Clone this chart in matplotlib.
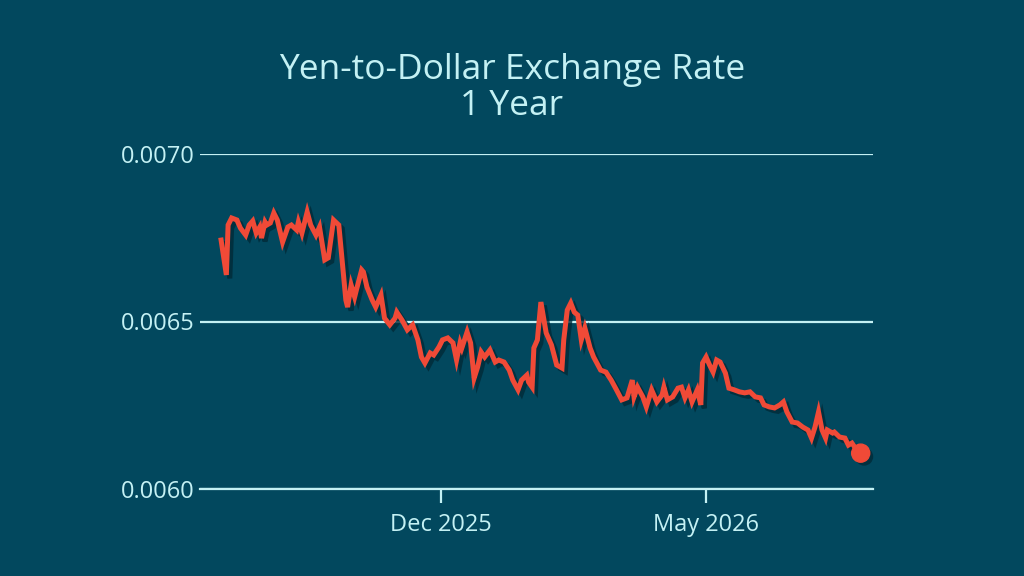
import datetime as dt
import matplotlib
matplotlib.use("Agg")
import matplotlib.pyplot as plt
import matplotlib.dates as mdates
import matplotlib.patheffects as pe

start_date = dt.date(2025, 7, 29)

days = [0, 3, 4, 6, 9, 11, 14, 16, 18, 20, 22, 23, 25, 26, 28, 30, 32, 35, 38, 40,
        43, 44, 46, 49, 51, 54, 56, 59, 61, 64, 67, 69, 71, 72, 74, 76, 77, 80, 81, 83,
        86, 88, 91, 93, 96, 99, 100, 103, 106, 109, 112, 114, 116, 119, 121, 124, 126, 129, 132, 134,
        136, 137, 140, 142, 144, 146, 148, 150, 153, 156, 158, 161, 164, 166, 169, 171, 174, 175, 177, 178,
        180, 182, 184, 185, 188, 191, 194, 195, 197, 199, 201, 203, 205, 207, 210, 212, 216, 219, 222, 225,
        228, 231, 234, 235, 237, 240, 242, 245, 248, 251, 252, 254, 257, 260, 262, 264, 266, 268, 271, 273,
        274, 276, 278, 280, 282, 284, 287, 289, 292, 295, 298, 301, 304, 307, 309, 312, 315, 318, 320, 322,
        325, 328, 331, 334, 336, 338, 340, 342, 344, 345, 348, 349, 352, 355, 357, 359, 361, 364]

rates = [0.006743, 0.006639, 0.006788, 0.006809, 0.006803, 0.006779, 0.006758, 0.006788, 0.006800, 0.006764,
         0.006782, 0.006749, 0.006797, 0.006788, 0.006794, 0.006824, 0.006803, 0.006737, 0.006782, 0.006788,
         0.006773, 0.006797, 0.006764, 0.006827, 0.006788, 0.006758, 0.006782, 0.006684, 0.006690, 0.006803,
         0.006788, 0.006675, 0.006564, 0.006543, 0.006609, 0.006573, 0.006594, 0.006654, 0.006648, 0.006603,
         0.006564, 0.006543, 0.006579, 0.006510, 0.006490, 0.006510, 0.006528, 0.006504, 0.006475, 0.006490,
         0.006445, 0.006394, 0.006376, 0.006406, 0.006400, 0.006424, 0.006445, 0.006451, 0.006436, 0.006385,
         0.006436, 0.006421, 0.006469, 0.006436, 0.006331, 0.006364, 0.006409, 0.006394, 0.006415, 0.006379,
         0.006385, 0.006379, 0.006355, 0.006325, 0.006296, 0.006325, 0.006340, 0.006319, 0.006304, 0.006421,
         0.006445, 0.006558, 0.006496, 0.006466, 0.006430, 0.006370, 0.006361, 0.006445, 0.006534, 0.006555,
         0.006528, 0.006519, 0.006445, 0.006481, 0.006421, 0.006394, 0.006355, 0.006349, 0.006325, 0.006296,
         0.006266, 0.006272, 0.006325, 0.006275, 0.006304, 0.006275, 0.006245, 0.006296, 0.006260, 0.006281,
         0.006304, 0.006266, 0.006275, 0.006301, 0.006304, 0.006272, 0.006296, 0.006260, 0.006296, 0.006251,
         0.006376, 0.006394, 0.006370, 0.006349, 0.006385, 0.006379, 0.006346, 0.006301, 0.006296, 0.006290,
         0.006287, 0.006290, 0.006275, 0.006272, 0.006251, 0.006245, 0.006242, 0.006251, 0.006260, 0.006230,
         0.006200, 0.006197, 0.006185, 0.006176, 0.006152, 0.006185, 0.006230, 0.006176, 0.006152, 0.006176,
         0.006167, 0.006170, 0.006155, 0.006152, 0.006131, 0.006137, 0.006122, 0.006107]

y_ticks = [0.0060, 0.0065, 0.0070]
x_ticks = [dt.date(2025, 12, 1), dt.date(2026, 5, 1)]

bg = "#02485e"
pale = "#c4f1f4"
red = "#f04a37"

dates = [start_date + dt.timedelta(days=d) for d in days]

plt.rcParams["font.family"] = ["Open Sans", "DejaVu Sans"]

fig = plt.figure(figsize=(10.24, 5.76), dpi=100, facecolor=bg)
ax = fig.add_axes([200 / 1024, 1 - 489 / 576, 673 / 1024, 335 / 576])
ax.set_facecolor(bg)

shadow = [pe.SimpleLineShadow(offset=(2.5, -2.5), shadow_color="#012a38", alpha=0.8), pe.Normal()]
ax.plot(dates, rates, color=red, lw=3.6, solid_joinstyle="miter", path_effects=shadow, zorder=3)
ax.plot(dates[-1], rates[-1], "o", color=red, ms=13, zorder=4, clip_on=False,
        path_effects=[pe.SimplePatchShadow(offset=(2.5, -2.5), shadow_rgbFace="#012a38", alpha=0.8), pe.Normal()])

ax.set_ylim(0.0060, 0.0070)
ax.set_xlim(start_date - dt.timedelta(days=12.5), start_date + dt.timedelta(days=371))
ax.set_yticks(y_ticks)
ax.set_yticklabels([f"{v:.4f}" for v in y_ticks])
ax.set_xticks(x_ticks)
ax.xaxis.set_major_formatter(mdates.DateFormatter("%b %Y"))

ax.grid(axis="y", color=pale, lw=1.6)
ax.set_axisbelow(True)
for s in ["top", "right", "left"]:
    ax.spines[s].set_visible(False)
ax.spines["bottom"].set_color(pale)
ax.spines["bottom"].set_linewidth(1.6)
ax.tick_params(axis="y", length=0, pad=4, labelsize=17, labelcolor=pale)
ax.tick_params(axis="x", length=10, width=1.6, color=pale, pad=7, labelsize=17, labelcolor=pale)

fig.text(0.5, 1 - 88 / 576, "Yen-to-Dollar Exchange Rate\n1 Year", ha="center", va="center",
         color=pale, fontsize=25.5, linespacing=1.05)

fig.savefig("out.png", dpi=100, facecolor=bg)
